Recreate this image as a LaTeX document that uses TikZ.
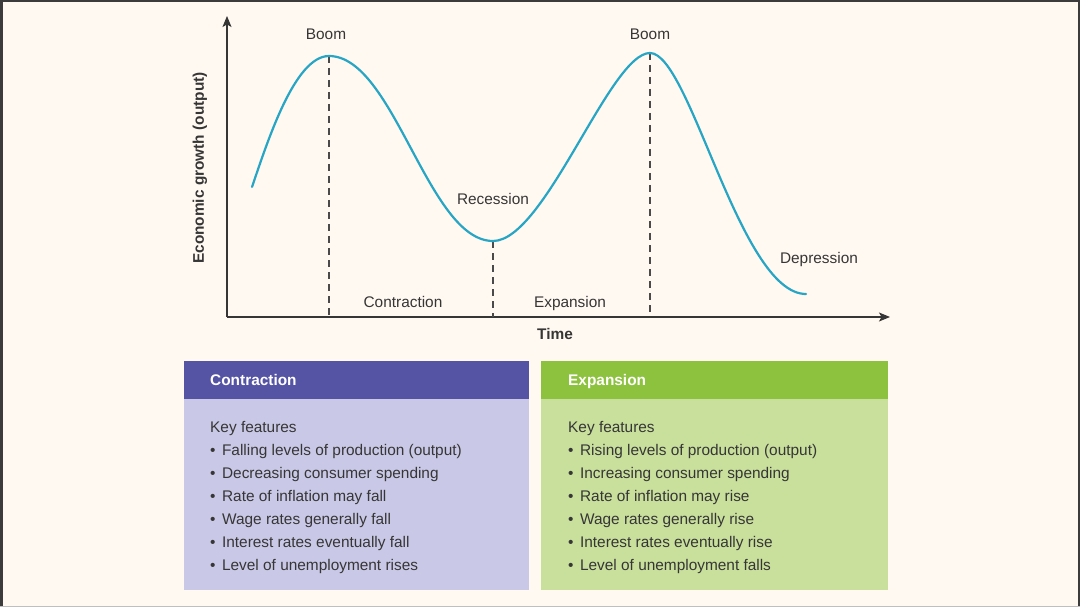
\documentclass[tikz,border=0pt]{standalone}
\usepackage{fontspec}
\setmainfont{Liberation Sans}
\usetikzlibrary{arrows.meta}
\definecolor{bgc}{HTML}{FFF9F1}
\definecolor{txt}{HTML}{363636}
\definecolor{curvec}{HTML}{27A5C4}
\definecolor{conhead}{HTML}{5453A4}
\definecolor{conbody}{HTML}{C9C8E6}
\definecolor{exphead}{HTML}{8DC23F}
\definecolor{expbody}{HTML}{C9DF9C}
\definecolor{framec}{HTML}{3C3C3C}
\tikzset{
  lbl/.style={text=txt, font=\fontsize{15.4}{18}\selectfont, inner sep=0pt, anchor=base},
  blbl/.style={lbl, font=\fontsize{15.4}{18}\selectfont\bfseries},
  axisline/.style={draw=txt, line width=1.3pt, -{Stealth[length=11pt,width=9pt,inset=2.5pt]}},
  guide/.style={draw=txt!90, line width=1.1pt, dash pattern=on 7pt off 5pt},
  headtxt/.style={text=white, font=\fontsize{15.4}{18}\selectfont\bfseries, anchor=base west, inner sep=0pt},
  bodytxt/.style={text=txt, font=\fontsize{15.4}{23}\selectfont, align=left, anchor=north west, inner sep=0pt},
}
\newcommand{\bul}{•\hspace{6.5pt}}
\begin{document}
\begin{tikzpicture}[x=1pt,y=-1pt]
\fill[bgc] (0,0) rectangle (1080,607);
\useasboundingbox (0,0) rectangle (1080,607);
\draw[framec, line width=2.5pt] (1.25,607) -- (1.25,1.25) -- (1078.75,1.25) -- (1078.75,607);
\draw[black!25, line width=1pt] (0,606.5) -- (1080,606.5);

% axes
\coordinate (O) at (227,317);
\coordinate (Ytop) at (227,16);
\coordinate (Xend) at (890,317);
\draw[axisline] (O) -- (Ytop);
\draw[axisline] (O) -- (Xend);

% curve key points
\coordinate (S) at (252,187);
\coordinate (P1) at (329,56);
\coordinate (T) at (493,241);
\coordinate (P2) at (650,53);
\coordinate (E) at (806,294);
\coordinate (B1) at (329,317);
\coordinate (B2) at (493,317);
\coordinate (B3) at (650,317);

\draw[guide] (P1) -- (B1);
\draw[guide] (T) -- (B2);
\draw[guide] (P2) -- (B3);

\draw[curvec, line width=2.2pt, line cap=round]
  (S) .. controls (268,140) and (295,56) .. (P1)
      .. controls (394,56) and (428,241) .. (T)
      .. controls (545,241) and (610,53) .. (P2)
      .. controls (690,53) and (740,294) .. (E);

% chart labels (baselines)
\node[lbl] (boom1) at (326,39.5) {Boom};
\node[lbl] (boom2) at (650,39.5) {Boom};
\node[lbl] (rec) at (493,204.5) {Recession};
\node[lbl] (dep) at (819,263.5) {Depression};
\node[lbl] (con) at (403,307.5) {Contraction};
\node[lbl] (exp) at (570,307.5) {Expansion};
\node[blbl] (time) at (555,339.5) {Time};
\node[blbl, rotate=90, anchor=center] (ylab) at (200,168) {Economic growth (output)};

% boxes
\fill[conbody] (184,399) rectangle (529,590);
\fill[conhead] (184,361) rectangle (529,399);
\fill[expbody] (541,399) rectangle (888,590);
\fill[exphead] (541,361) rectangle (888,399);

\node[headtxt] (conh) at (210,385.5) {Contraction};
\node[headtxt] (exph) at (568,385.5) {Expansion};

\node[bodytxt] (conb) at (210,421) {Key features\\
\bul Falling levels of production (output)\\
\bul Decreasing consumer spending\\
\bul Rate of inflation may fall\\
\bul Wage rates generally fall\\
\bul Interest rates eventually fall\\
\bul Level of unemployment rises};
\node[bodytxt] (expb) at (568,421) {Key features\\
\bul Rising levels of production (output)\\
\bul Increasing consumer spending\\
\bul Rate of inflation may rise\\
\bul Wage rates generally rise\\
\bul Interest rates eventually rise\\
\bul Level of unemployment falls};
\end{tikzpicture}
\end{document}
